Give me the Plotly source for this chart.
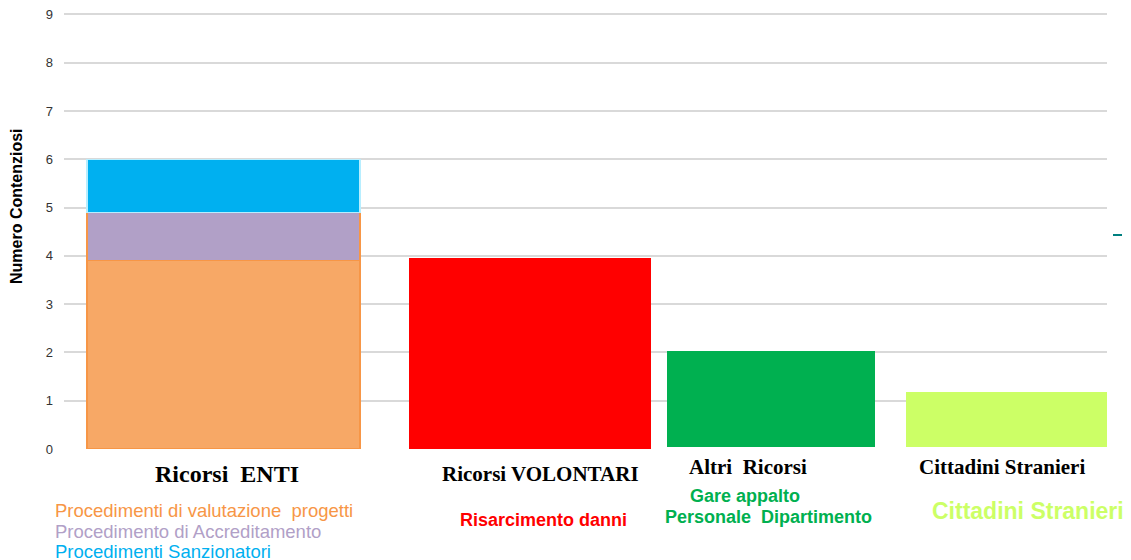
import plotly.graph_objects as go

categories = ["Ricorsi  ENTI", "Ricorsi VOLONTARI", "Altri  Ricorsi", "Cittadini Stranieri"]

# stacked pieces of the first column
enti_labels = ["Procedimenti di valutazione  progetti", "Procedimento di Accreditamento", "Procedimenti Sanzionatori"]
enti_values = [3.9, 1.0, 1.1]
enti_colors = ["#F7A866", "#B1A0C7", "#00B0F0"]
enti_lines = ["#F79646", "#F79646", "#B7EEFF"]

# single bars of the other columns
other_values = [3.95, 2.0, 1.15]
other_colors = ["#FF0000", "#00B050", "#CCFF66"]

y_ticks = list(range(0, 10))

# plot area in page pixels (the page body adds 8px)
PL, PR, PT, PB = 64, 1107, 13, 449


def px2paper(px, py):
    return (px - PL) / (PR - PL), (PB - py) / (PB - PT)


fig = go.Figure()

for lab, val, col, lc in zip(enti_labels, enti_values, enti_colors, enti_lines):
    fig.add_trace(go.Bar(
        x=[categories[0]], y=[val], name=lab,
        marker=dict(color=col, line=dict(color=lc, width=1.5)),
        width=[1.06], offset=[-0.41],
    ))

fig.add_trace(go.Bar(
    x=categories[1:], y=other_values,
    marker=dict(color=other_colors, line=dict(width=0)),
    width=[0.94, 0.81, 0.78], offset=[-0.16, -0.16, -0.23],
    base=[0, 0.04, 0.04],
))

fig.update_layout(
    barmode="stack",
    width=1131, height=560,
    margin=dict(l=PL - 8, r=1131 + 8 - PR, t=PT - 8, b=560 + 8 - PB),
    paper_bgcolor="white", plot_bgcolor="white",
    showlegend=False,
    font=dict(family="Arial, Liberation Sans, sans-serif", color="#333333"),
)
fig.update_xaxes(range=[-0.5, 3.55], showticklabels=False, showgrid=False, zeroline=False,
                 automargin=False)
fig.update_yaxes(
    range=[0, 9.03], tickvals=y_ticks, gridcolor="#D9D9D9", gridwidth=1.5,
    zeroline=False, tickfont=dict(size=13, color="#333333"), ticklabelstandoff=10,
    ticklabeloverflow="allow", automargin=False,
)

serif = "Liberation Serif, Times New Roman, serif"
cat_pos = [(227, 474, 24), (540, 474, 21), (748, 467, 21), (1002, 467, 21)]
for name, (px, py, sz) in zip(categories, cat_pos):
    x, y = px2paper(px, py)
    fig.add_annotation(
        text=f"<b>{name}</b>", x=x, y=y, xref="paper", yref="paper",
        xanchor="center", yanchor="middle", showarrow=False,
        font=dict(family=serif, size=sz, color="#000000"),
    )

x, y = px2paper(17, 206)
fig.add_annotation(
    text="<b>Numero Contenziosi</b>", x=x, y=y, xref="paper", yref="paper",
    textangle=-90, showarrow=False, xanchor="center", yanchor="middle",
    font=dict(size=16, color="#000000"),
)

# coloured legend-like texts under the columns
notes = [
    (enti_labels[0], 53, 510, "left", 18.5, "#F79646", False),
    (enti_labels[1], 53, 531, "left", 18.5, "#B1A0C7", False),
    (enti_labels[2], 53, 551, "left", 18.5, "#00B0F0", False),
    ("Risarcimento danni", 543, 520, "center", 18, "#FF0000", True),
    ("Gare appalto", 745, 496, "center", 18, "#00B050", True),
    ("Personale  Dipartimento", 768, 517, "center", 18, "#00B050", True),
    ("Cittadini Stranieri", 1028, 511, "center", 23, "#CCFF66", True),
]
for txt, px, py, anc, sz, col, bold in notes:
    x, y = px2paper(px, py)
    fig.add_annotation(
        text=f"<b>{txt}</b>" if bold else txt, x=x, y=y,
        xref="paper", yref="paper", xanchor=anc, yanchor="middle", showarrow=False,
        font=dict(size=sz, color=col),
    )

x0, y0 = px2paper(1113, 235)
x1, _ = px2paper(1122, 235)
fig.add_shape(type="line", xref="paper", yref="paper", x0=x0, x1=x1, y0=y0, y1=y0,
              line=dict(color="#008080", width=2))

fig.write_html("out.html")
